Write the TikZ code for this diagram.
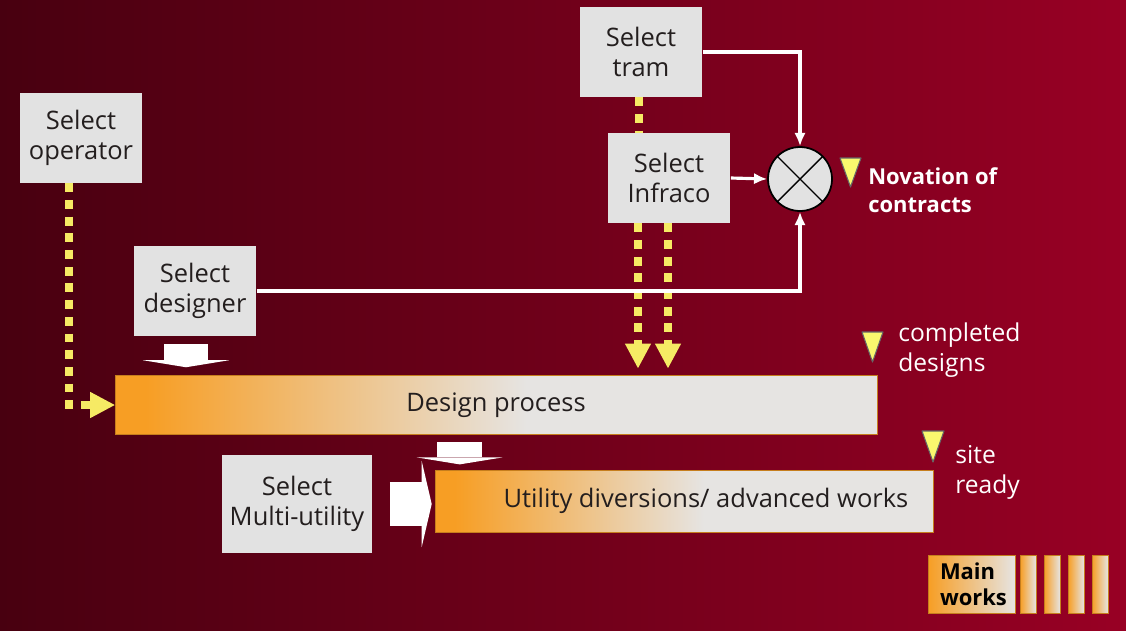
\documentclass[tikz,border=0pt]{standalone}
\usepackage{fontspec}
\setmainfont{Open Sans}
\usetikzlibrary{arrows.meta}

\definecolor{bgdark}{RGB}{72,0,16}
\definecolor{bgmid}{RGB}{128,0,30}
\definecolor{bgred}{RGB}{152,0,36}
\definecolor{boxgray}{RGB}{226,226,226}
\definecolor{textdark}{RGB}{35,30,30}
\definecolor{dotyellow}{RGB}{246,234,100}
\definecolor{markyellow}{RGB}{250,248,110}
\definecolor{barorange}{RGB}{247,158,36}
\definecolor{barlight}{RGB}{230,228,226}

\pgfdeclarehorizontalshading{barshade}{100bp}{color(0bp)=(barorange); color(27bp)=(barorange); color(52bp)=(barlight); color(100bp)=(barlight)}

\begin{document}
\begin{tikzpicture}[
    x=0.02cm, y=-0.02cm,
    selbox/.style={
        rectangle, fill=boxgray, text=textdark, align=center, inner sep=0pt,
        minimum width=2.46cm, minimum height=1.8cm,
        font=\fontsize{14.5}{17}\selectfont
    },
    bar/.style={
        rectangle, shading=barshade, draw=barorange!80!black, line width=0.4pt,
        text=textdark, inner sep=0pt, font=\fontsize{14.5}{17}\selectfont
    },
    stripe/.style={
        rectangle, left color=barorange, right color=barlight, draw=barorange!80!black,
        line width=0.4pt, minimum width=0.32cm, minimum height=1.16cm, inner sep=0pt
    },
    dotline/.style={dotyellow, line width=5pt, dash pattern=on 5pt off 4.5pt,
        -{Triangle[length=14pt, width=15pt, line width=0pt]}},
    wire/.style={white, line width=1.8pt, -{Latex[length=7.5pt, width=6.5pt]}},
    blockarrow/.style={white, line width=25.5pt,
        -{Triangle[length=4pt, width=49pt, line width=0pt]}},
    milestone/.style={fill=markyellow, draw=black!60, line width=0.6pt, line join=round},
    note/.style={text=white, align=left, anchor=west, inner sep=0pt,
        font=\fontsize{14}{17}\selectfont}
]

% Background
\fill[left color=bgdark, middle color=bgmid, right color=bgred] (0,0) rectangle (1126,630);
\useasboundingbox (0,0) rectangle (1126,630);

% Selections
\node[selbox] (operator) at (81,138) {Select\\operator};
\node[selbox] (tram) at (641,52) {Select\\tram};
\node[selbox] (infraco) at (669,178) {Select\\Infraco};
\node[selbox] (designer) at (195,291) {Select\\designer};
\node[selbox, minimum width=3cm, minimum height=1.96cm] (multiutil) at (297,504) {Select\\Multi-utility};

% Novation
\node[circle, draw=black, line width=1pt, fill=boxgray, minimum size=1.28cm, inner sep=0pt] (novation) at (800,179) {};
\draw[black, line width=0.8pt] (novation.north east) -- (novation.south west);
\draw[black, line width=0.8pt] (novation.north west) -- (novation.south east);

% Process bars
\node[bar, minimum width=15.24cm, minimum height=1.18cm] (design) at (496,405) {Design process};
\node[bar, minimum width=9.96cm, minimum height=1.24cm] (utility) at (684,501) {\hspace*{0.88cm}Utility diversions/ advanced works};
\node[bar, left color=barorange, right color=barlight, minimum width=1.74cm, minimum height=1.16cm,
      text width=1.26cm, align=left, text=black, font=\bfseries\fontsize{12.5}{15}\selectfont] (mainworks) at (971.5,584) {Main\\works};
\node[stripe] (works1) at (1028,584) {};
\node[stripe] (works2) at (1052,584) {};
\node[stripe] (works3) at (1076,584) {};
\node[stripe] (works4) at (1100,584) {};

% Milestones
\draw[milestone] (840,158) -- ++(21,0) -- ++(-10.5,29) -- cycle;
\draw[milestone] (862,332) -- ++(21,0) -- ++(-10.5,30) -- cycle;
\draw[milestone] (922,431) -- ++(22,0) -- ++(-11,31) -- cycle;
\node[note, font=\bfseries\fontsize{12.5}{16}\selectfont] (novlabel) at (868,190) {Novation of\\contracts};
\node[note] (donelabel) at (898,350) {completed\\designs};
\node[note] (sitelabel) at (955,472) {site\\ready};

% Dotted inputs
\draw[dotline] (operator.south) ++(-12,0) |- (design.west);
\draw[dotline, -] (tram.south) ++(-2,0) coordinate (t1) -- (t1 |- infraco.north);
\draw[dotline, shorten >=4pt] (infraco.south) ++(-31,0) coordinate (i1) -- (i1 |- design.north);
\draw[dotline, shorten >=4pt] (infraco.south) ++(-1,0) coordinate (i2) -- (i2 |- design.north);

% Block arrows
\draw[blockarrow, shorten <=4.5pt, shorten >=4.5pt] (designer.south) ++(-9,0) coordinate (b1) -- (b1 |- design.north);
\coordinate (b2) at ([xshift=0.5cm]utility.north west);
\draw[blockarrow, shorten <=4pt, shorten >=3pt] (b2 |- design.south) -- (b2);
\draw[blockarrow, shorten <=10pt, shorten >=1.7pt, -{Triangle[length=5.7pt, width=49pt, line width=0pt]}]
    (multiutil.east) -- (multiutil.east -| utility.west);

% Contract links
\draw[wire] (tram.east) -| (novation.north);
\draw[wire] (infraco.east) -- (novation.west);
\draw[wire] (designer.east) -| (novation.south);

\end{tikzpicture}
\end{document}
